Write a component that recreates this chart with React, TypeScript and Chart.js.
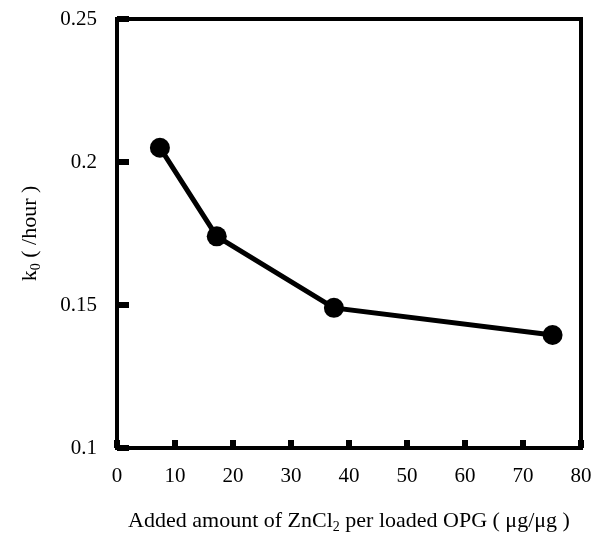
import React, { useEffect, useLayoutEffect, useRef } from "react";
import { Chart, registerables } from "chart.js";

Chart.register(...registerables);

const xValues = [7.4, 17.2, 37.4, 75.1];
const yValues = [0.205, 0.174, 0.149, 0.1395];
const xTicks = [0, 10, 20, 30, 40, 50, 60, 70, 80];
const yTicks = [0.1, 0.15, 0.2, 0.25];
const yTickLabels = ["0.1", "0.15", "0.2", "0.25"];

const FONT = "'Liberation Serif', 'Times New Roman', serif";
const W = 593;
const H = 539;

const framePlugin = {
  id: "frame",
  afterDraw(chart: any) {
    const { ctx, chartArea } = chart;
    const { left, right, top, bottom } = chartArea;
    const xs = chart.scales.x;
    const ys = chart.scales.y;
    ctx.save();
    ctx.strokeStyle = "#000";
    ctx.fillStyle = "#000";
    ctx.lineWidth = 4;
    ctx.strokeRect(left, top, right - left, bottom - top);
    xTicks.forEach((v) => {
      const px = xs.getPixelForValue(v);
      ctx.fillRect(px - 3, bottom - 8, 6, 8);
    });
    yTicks.forEach((v) => {
      const py = ys.getPixelForValue(v);
      ctx.fillRect(left, py - 3, 12, 6);
    });
    const size = 22;
    const sub = 14;
    const drawParts = (parts: [string, boolean][], cx: number, cy: number) => {
      let total = 0;
      parts.forEach(([t, s]) => {
        ctx.font = `${s ? sub : size}px ${FONT}`;
        total += ctx.measureText(t).width;
      });
      let x = cx - total / 2;
      ctx.textAlign = "left";
      ctx.textBaseline = "alphabetic";
      parts.forEach(([t, s]) => {
        ctx.font = `${s ? sub : size}px ${FONT}`;
        ctx.fillText(t, x, cy + (s ? 4 : 0));
        x += ctx.measureText(t).width;
      });
    };
    const cxMid = (left + right) / 2;
    drawParts(
      [
        ["Added amount of ZnCl", false],
        ["2", true],
        [" per loaded OPG ( \u03bcg/\u03bcg )", false],
      ],
      cxMid,
      527
    );
    ctx.translate(29, (top + bottom) / 2);
    ctx.rotate(-Math.PI / 2);
    drawParts(
      [
        ["k", false],
        ["0", true],
        [" ( /hour )", false],
      ],
      0,
      7
    );
    ctx.restore();
  },
};

export default function App() {
  const ref = useRef<HTMLCanvasElement>(null);
  useLayoutEffect(() => {
    document.body.style.margin = "0";
  }, []);
  useEffect(() => {
    if (!ref.current) return;
    const chart = new Chart(ref.current, {
      type: "scatter",
      data: {
        datasets: [
          {
            data: xValues.map((x, i) => ({ x, y: yValues[i] })),
            showLine: true,
            borderColor: "#000",
            backgroundColor: "#000",
            borderWidth: 5,
            pointRadius: 10,
            pointHoverRadius: 10,
            pointBackgroundColor: "#000",
            pointBorderWidth: 0,
            clip: false,
          },
        ],
      },
      options: {
        animation: false,
        responsive: false,
        maintainAspectRatio: false,
        layout: { autoPadding: false, padding: { left: 0, right: 12, top: 19, bottom: 0 } },
        plugins: { legend: { display: false }, tooltip: { enabled: false } },
        scales: {
          x: {
            type: "linear",
            min: 0,
            max: 80,
            grid: { display: false, drawTicks: false },
            border: { display: false },
            afterBuildTicks: (s: any) => {
              s.ticks = xTicks.map((v) => ({ value: v }));
            },
            afterFit: (s: any) => {
              s.height = 91;
              s.paddingLeft = 0;
              s.paddingRight = 0;
            },
            ticks: {
              color: "#000",
              padding: 16,
              maxRotation: 0,
              font: { family: FONT, size: 21 },
              callback: (v: any) => String(v),
            },
          },
          y: {
            type: "linear",
            min: 0.1,
            max: 0.25,
            grid: { display: false, drawTicks: false },
            border: { display: false },
            afterBuildTicks: (s: any) => {
              s.ticks = yTicks.map((v) => ({ value: v }));
            },
            afterFit: (s: any) => {
              s.width = 117;
              s.paddingTop = 0;
              s.paddingBottom = 0;
            },
            ticks: {
              color: "#000",
              padding: 20,
              font: { family: FONT, size: 21 },
              callback: (v: any) => {
                const i = yTicks.findIndex((t) => Math.abs(t - v) < 1e-9);
                return i >= 0 ? yTickLabels[i] : "";
              },
            },
          },
        },
      },
      plugins: [framePlugin],
    });
    return () => chart.destroy();
  }, []);
  return (
    <div style={{ width: W, height: H, background: "#fff" }}>
      <canvas ref={ref} width={W} height={H} style={{ width: W, height: H, display: "block" }} />
    </div>
  );
}
